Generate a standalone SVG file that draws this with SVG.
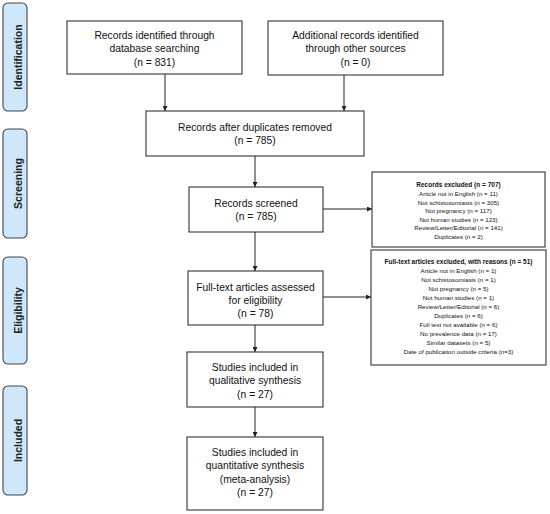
<svg xmlns="http://www.w3.org/2000/svg" width="550" height="514" viewBox="0 0 550 514">
<defs>
<marker id="ah" viewBox="0 0 10 10" refX="10" refY="5" markerWidth="5" markerHeight="5" markerUnits="userSpaceOnUse" orient="auto">
<path d="M0,0 L10,5 L0,10 z" fill="#222"/>
</marker>
</defs>
<style>
.box{fill:#fff;stroke:#333;stroke-width:1.1}
.side{fill:#cfe7fa;stroke:#444;stroke-width:1.1}
.t{font-family:"Liberation Sans",Arial,sans-serif;font-size:10.3px;fill:#111;text-anchor:middle}
.s{font-family:"Liberation Sans",Arial,sans-serif;font-size:6.2px;fill:#111;text-anchor:middle}
.sb{font-family:"Liberation Sans",Arial,sans-serif;font-size:6.5px;font-weight:bold;fill:#111;text-anchor:middle}
.lab{font-family:"Liberation Sans",Arial,sans-serif;font-size:10.5px;font-weight:bold;fill:#222;text-anchor:middle}
.c{stroke:#222;stroke-width:1;fill:none;marker-end:url(#ah)}
</style>
<rect width="550" height="514" fill="#fff"/>
<g id="side-identification"><rect class="side" x="3" y="3" width="24" height="108" rx="5"/><text class="lab" transform="translate(21.5,57) rotate(-90)">Identification</text></g>
<g id="side-screening"><rect class="side" x="3" y="129" width="24" height="109" rx="5"/><text class="lab" transform="translate(21.5,183.5) rotate(-90)">Screening</text></g>
<g id="side-eligibility"><rect class="side" x="3" y="257" width="24" height="107" rx="5"/><text class="lab" transform="translate(21.5,310.5) rotate(-90)">Eligibility</text></g>
<g id="side-included"><rect class="side" x="3" y="386" width="24" height="109" rx="5"/><text class="lab" transform="translate(21.5,440.5) rotate(-90)">Included</text></g>

<g id="connectors">
<path class="c" d="M165,74 V111"/>
<path class="c" d="M344,75 V111"/>
<path class="c" d="M255,156 V187"/>
<path class="c" d="M255,232 V271"/>
<path class="c" d="M255,325 V352"/>
<path class="c" d="M255,407 V437"/>
<path class="c" d="M323,209 H372"/>
<path class="c" d="M323,297 H371"/>
</g>

<g id="n1"><rect class="box" x="67" y="21" width="175" height="53"/>
<text class="t" x="154.5" y="38.5">Records identified through</text>
<text class="t" x="154.5" y="52">database searching</text>
<text class="t" x="154.5" y="65.5">(n = 831)</text></g>
<g id="n2"><rect class="box" x="268" y="21" width="175" height="54"/>
<text class="t" x="355.5" y="38.5">Additional records identified</text>
<text class="t" x="355.5" y="52">through other sources</text>
<text class="t" x="355.5" y="65.5">(n = 0)</text></g>
<g id="n3"><rect class="box" x="146" y="111" width="218" height="45"/>
<text class="t" x="255" y="130.5">Records after duplicates removed</text>
<text class="t" x="255" y="144">(n = 785)</text></g>
<g id="n4"><rect class="box" x="189" y="187" width="134" height="45"/>
<text class="t" x="256" y="206.5">Records screened</text>
<text class="t" x="256" y="220">(n = 785)</text></g>
<g id="n5"><rect class="box" x="188" y="271" width="135" height="54"/>
<text class="t" x="255.5" y="290.5">Full-text articles assessed</text>
<text class="t" x="255.5" y="303.5">for eligibility</text>
<text class="t" x="255.5" y="316.5">(n = 78)</text></g>
<g id="n6"><rect class="box" x="187" y="352" width="136" height="55"/>
<text class="t" x="255" y="370.5">Studies included in</text>
<text class="t" x="255" y="384">qualitative synthesis</text>
<text class="t" x="255" y="397.5">(n = 27)</text></g>
<g id="n7"><rect class="box" x="187" y="437" width="136" height="73"/>
<text class="t" x="255" y="455.5">Studies included in</text>
<text class="t" x="255" y="469">quantitative synthesis</text>
<text class="t" x="255" y="482.5">(meta-analysis)</text>
<text class="t" x="255" y="496">(n = 27)</text></g>

<g id="ex1"><rect class="box" x="372" y="172" width="173" height="75"/>
<text class="sb" x="458.5" y="187.3">Records excluded (n = 707)</text>
<text class="s" x="458.5" y="196">Article not in English (n = 11)</text>
<text class="s" x="458.5" y="204.5">Not schistosomiasis (n = 305)</text>
<text class="s" x="458.5" y="213">Not pregnancy (n = 117)</text>
<text class="s" x="458.5" y="221.5">Not human studies (n = 123)</text>
<text class="s" x="458.5" y="230">Review/Letter/Editorial (n = 141)</text>
<text class="s" x="458.5" y="238.5">Duplicates (n = 2)</text></g>
<g id="ex2"><rect class="box" x="371" y="250" width="175" height="115"/>
<text class="sb" x="458.5" y="264.3">Full-text articles excluded, with reasons (n = 51)</text>
<text class="s" x="458.5" y="273.2">Article not in English (n = 1)</text>
<text class="s" x="458.5" y="282.2">Not schistosomiasis (n = 1)</text>
<text class="s" x="458.5" y="291.2">Not pregnancy (n = 5)</text>
<text class="s" x="458.5" y="300.2">Not human studies (n = 1)</text>
<text class="s" x="458.5" y="309.2">Review/Letter/Editorial (n = 6)</text>
<text class="s" x="458.5" y="318.2">Duplicates (n = 6)</text>
<text class="s" x="458.5" y="327.2">Full text not available (n = 6)</text>
<text class="s" x="458.5" y="336.2">No prevalence data (n = 17)</text>
<text class="s" x="458.5" y="345.2">Similar datasets (n = 5)</text>
<text class="s" x="458.5" y="354.2">Date of publication outside criteria (n=3)</text></g>
</svg>
